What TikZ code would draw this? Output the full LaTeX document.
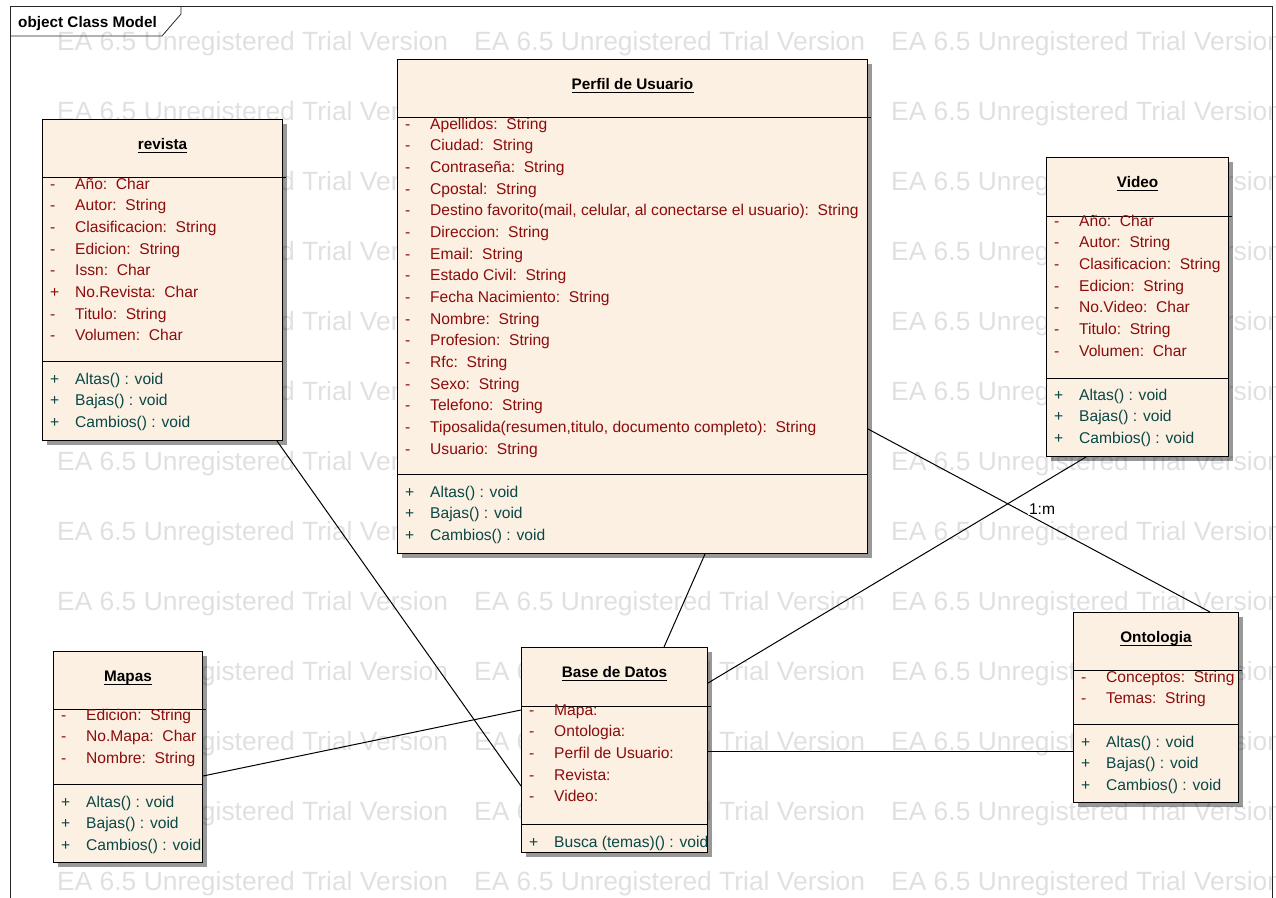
\documentclass[tikz,border=0pt]{standalone}
\usepackage{fontspec}
\setmainfont{Liberation Sans}
\usetikzlibrary{calc,shadows}

\definecolor{classfill}{RGB}{251,240,226}
\definecolor{attrred}{RGB}{140,12,12}
\definecolor{opteal}{RGB}{10,72,72}
\definecolor{wmgray}{RGB}{224,224,224}

\newcommand\rowfont{\fontsize{15.6}{21.67}\selectfont}
\newcommand\headfont{\fontsize{15.3}{18}\selectfont\bfseries}
\newcommand\wmfont{\fontsize{26.4}{30}\selectfont}
% attribute "name:  type"
\newcommand\at[2]{#1:~~#2}
% one compartment: sign column + text column
\newenvironment{rows}{\begin{tabular}[t]{@{}p{25pt}@{}l@{}}}{\end{tabular}}

\tikzset{
  cls/.style={draw=black, line width=1pt, fill=classfill, inner sep=0pt,
    anchor=north west,
    drop shadow={shadow xshift=4pt, shadow yshift=-4pt, fill=black, opacity=0.4}},
  divider/.style={draw=black, line width=1pt},
  ctitle/.style={anchor=base, inner sep=0pt, font=\headfont},
  attrs/.style={anchor=base west, inner sep=0pt, text=attrred, font=\rowfont},
  opers/.style={anchor=base west, inner sep=0pt, text=opteal, font=\rowfont},
  assoc/.style={draw=black, line width=1pt},
  wm/.style={anchor=base west, inner sep=0pt, text=wmgray, font=\wmfont},
  lbl/.style={fill=white, inner sep=1pt, font=\rowfont},
}

% class box: name, x, y, width, height, header divider, ops divider
\newcommand\umlclass[7]{%
  \node[cls, minimum width=#4pt, minimum height=#5pt] (#1) at (#2,#3) {};
  \draw[divider] ($(#1.north west)+(0,#6)$) -- ($(#1.north east)+(3,#6)$);
  \draw[divider] ($(#1.north west)+(0,#7)$) -- ($(#1.north east)+(0,#7)$);
}
% underlined class title
\newcommand\umltitle[2]{%
  \node[ctitle] (#1-title) at ($(#1.north)+(0,30)$) {#2};
  \draw[line width=1pt] ($(#1-title.base west)+(0,3.5)$) -- ($(#1-title.base east)+(0,3.5)$);
}

\begin{document}
\begin{tikzpicture}[x=1pt, y=-1pt]
\useasboundingbox (0,0) rectangle (1276,897);
\clip (0,0) rectangle (1276,897);

% evaluation watermark
\foreach \i in {0,1,2} {
  \foreach \j in {0,...,12} {
    \node[wm] (wm-\i-\j) at (57+417*\i, 50+70*\j) {EA 6.5 Unregistered Trial Version};
  }
}

% diagram frame and its tab
\node[draw=black!85, line width=0.8pt, inner sep=0pt, anchor=north west,
      minimum width=1262pt, minimum height=930pt] (frame) at (10,6) {};
\draw[black!85, line width=0.8pt] ($(frame.north west)+(0,30)$) -- ++(152,0) -- ++(19,-22) -- ++(0,-8);
\node[anchor=base west, inner sep=0pt, font=\headfont] (tab) at (18,27) {object Class Model};

% revista
\umlclass{rev}{42}{119}{240}{321}{58}{242}
\umltitle{rev}{revista}
\node[attrs] (rev-attrs) at ($(rev.north west)+(8,70)$) {\begin{rows}
- & \at{Año}{Char}\\
- & \at{Autor}{String}\\
- & \at{Clasificacion}{String}\\
- & \at{Edicion}{String}\\
- & \at{Issn}{Char}\\
+ & \at{No.Revista}{Char}\\
- & \at{Titulo}{String}\\
- & \at{Volumen}{Char}
\end{rows}};
\node[opers] (rev-ops) at ($(rev.north west)+(8,265)$) {\begin{rows}
+ & Altas() : void\\
+ & Bajas() : void\\
+ & Cambios() : void
\end{rows}};

% Perfil de Usuario
\umlclass{perf}{397}{59}{470}{494}{58}{415}
\umltitle{perf}{Perfil de Usuario}
\node[attrs] (perf-attrs) at ($(perf.north west)+(8,70)$) {\begin{rows}
- & \at{Apellidos}{String}\\
- & \at{Ciudad}{String}\\
- & \at{Contraseña}{String}\\
- & \at{Cpostal}{String}\\
- & \at{Destino favorito(mail, celular, al conectarse el usuario)}{String}\\
- & \at{Direccion}{String}\\
- & \at{Email}{String}\\
- & \at{Estado Civil}{String}\\
- & \at{Fecha Nacimiento}{String}\\
- & \at{Nombre}{String}\\
- & \at{Profesion}{String}\\
- & \at{Rfc}{String}\\
- & \at{Sexo}{String}\\
- & \at{Telefono}{String}\\
- & \at{Tiposalida(resumen,titulo, documento completo)}{String}\\
- & \at{Usuario}{String}
\end{rows}};
\node[opers] (perf-ops) at ($(perf.north west)+(8,438)$) {\begin{rows}
+ & Altas() : void\\
+ & Bajas() : void\\
+ & Cambios() : void
\end{rows}};

% Video
\umlclass{vid}{1046}{157}{182}{299}{59}{221}
\umltitle{vid}{Video}
\node[attrs] (vid-attrs) at ($(vid.north west)+(8,69)$) {\begin{rows}
- & \at{Año}{Char}\\
- & \at{Autor}{String}\\
- & \at{Clasificacion}{String}\\
- & \at{Edicion}{String}\\
- & \at{No.Video}{Char}\\
- & \at{Titulo}{String}\\
- & \at{Volumen}{Char}
\end{rows}};
\node[opers] (vid-ops) at ($(vid.north west)+(8,243)$) {\begin{rows}
+ & Altas() : void\\
+ & Bajas() : void\\
+ & Cambios() : void
\end{rows}};

% Ontologia
\umlclass{ont}{1073}{612}{165}{190}{58}{112}
\umltitle{ont}{Ontologia}
\node[attrs] (ont-attrs) at ($(ont.north west)+(8,70)$) {\begin{rows}
- & \at{Conceptos}{String}\\
- & \at{Temas}{String}
\end{rows}};
\node[opers] (ont-ops) at ($(ont.north west)+(8,135)$) {\begin{rows}
+ & Altas() : void\\
+ & Bajas() : void\\
+ & Cambios() : void
\end{rows}};

% Mapas
\umlclass{map}{53}{651}{149}{211}{58}{133}
\umltitle{map}{Mapas}
\node[attrs] (map-attrs) at ($(map.north west)+(8,69)$) {\begin{rows}
- & \at{Edicion}{String}\\
- & \at{No.Mapa}{Char}\\
- & \at{Nombre}{String}
\end{rows}};
\node[opers] (map-ops) at ($(map.north west)+(8,156)$) {\begin{rows}
+ & Altas() : void\\
+ & Bajas() : void\\
+ & Cambios() : void
\end{rows}};

% Base de Datos
\umlclass{base}{521}{647}{186}{205}{59}{177}
\umltitle{base}{Base de Datos}
\node[attrs] (base-attrs) at ($(base.north west)+(8,68)$) {\begin{rows}
- & Mapa:\\
- & Ontologia:\\
- & Perfil de Usuario:\\
- & Revista:\\
- & Video:
\end{rows}};
\node[opers] (base-ops) at ($(base.north west)+(8,200)$) {\begin{rows}
+ & Busca (temas)() : void
\end{rows}};

% associations, edge to edge
\draw[assoc] ($(rev.south west)+(235,0)$) -- ($(base.north west)+(0,139)$);
\draw[assoc] ($(perf.south west)+(308,0)$) -- ($(base.north west)+(143,0)$);
\draw[assoc] ($(vid.south west)+(40,0)$) -- ($(base.north east)+(0,36)$);
\draw[assoc] ($(perf.north east)+(0,370)$) -- ($(ont.north west)+(137,0)$);
\draw[assoc] ($(map.north east)+(0,125)$) -- ($(base.north west)+(0,63)$);
\draw[assoc] ($(base.north east)+(0,104)$) -- ($(ont.north west)+(0,139)$);
\node[lbl] (mult) at (1042,509) {1:m};

\end{tikzpicture}
\end{document}
